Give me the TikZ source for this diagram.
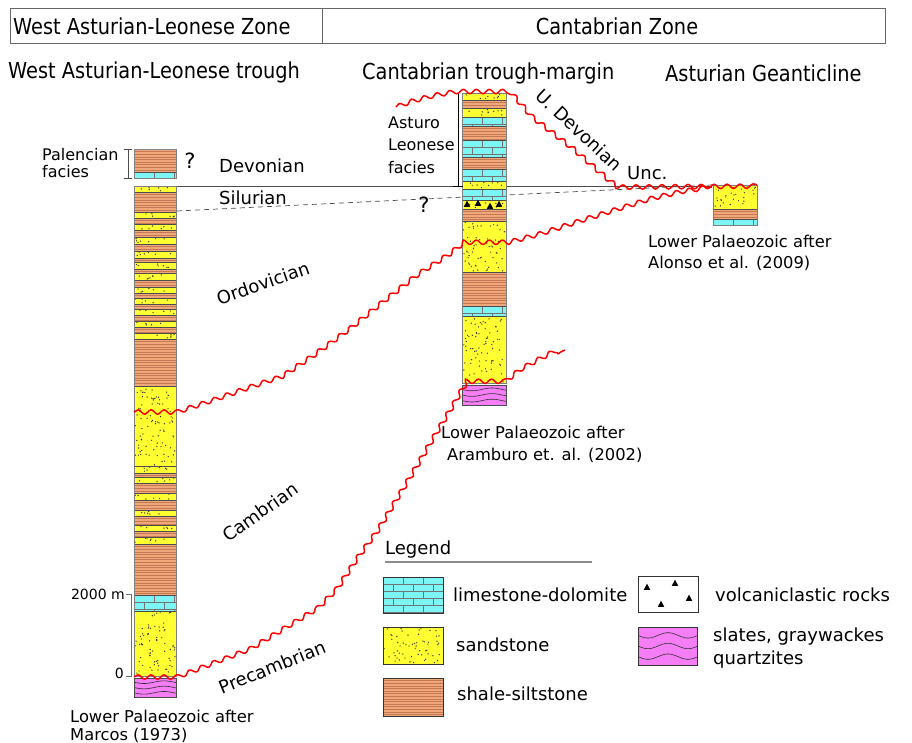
\documentclass[tikz,border=0pt]{standalone}
\usepackage{fontspec}
\setmainfont{DejaVu Sans}
\newfontfamily\condfont{DejaVu Sans}[FakeStretch=0.88]
\usetikzlibrary{decorations.pathmorphing}

\definecolor{sandcol}{RGB}{255,255,50}
\definecolor{shalecol}{RGB}{240,168,122}
\definecolor{shaleln}{RGB}{196,120,84}
\definecolor{limecol}{RGB}{125,245,245}
\definecolor{slatecol}{RGB}{245,125,245}

\tikzset{
  frame/.style={draw=black!60, line width=0.8pt},
  bedline/.style={draw=black!70, line width=0.5pt},
  coledge/.style={draw=black!50, line width=0.9pt},
  shaleline/.style={draw=shaleln, line width=0.35pt},
  limeline/.style={draw=black!55, line width=0.4pt},
  slateline/.style={draw=black!80, line width=0.6pt},
  sanddot/.style={fill=black!80},
  unc/.style={draw=red, line width=1.5pt, decorate,
    decoration={snake, segment length=13pt, amplitude=2.2pt}},
  horizon/.style={draw=black!70, line width=0.7pt},
  agetext/.style={font=\fontsize{18}{21}\selectfont, inner sep=0pt},
  notetext/.style={font=\fontsize{16.3}{19}\selectfont, inner sep=0pt, align=left},
  head/.style={font=\condfont\fontsize{22}{25}\selectfont, inner sep=0pt},
}

% beds: x1 y1 x2 y2 (y grows downward)
\newcommand{\sandbed}[4]{%
  \fill[sandcol] (#1,#2) rectangle (#3,#4);
  \pgfmathtruncatemacro\ndots{abs((#3-#1)*(#4-#2))/38}
  \foreach \k in {1,...,\ndots} {\fill[sanddot] ({#1+1+rnd*(#3-#1-2)},{#2+1+rnd*(#4-#2-2)}) circle (0.7pt);}
  \draw[bedline] (#1,#2) rectangle (#3,#4);
}
\newcommand{\shalebed}[4]{%
  \fill[shalecol] (#1,#2) rectangle (#3,#4);
  \begin{scope}
    \clip (#1,#2) rectangle (#3,#4);
    \foreach \k in {1,...,40} {\draw[shaleline] (#1,{#2+2.6*\k}) -- (#3,{#2+2.6*\k});}
  \end{scope}
  \draw[bedline] (#1,#2) rectangle (#3,#4);
}
\newcommand{\limebed}[4]{%
  \fill[limecol] (#1,#2) rectangle (#3,#4);
  \begin{scope}
    \clip (#1,#2) rectangle (#3,#4);
    \foreach \r in {0,...,7} {
      \draw[limeline] (#1,{#2+7*\r}) -- (#3,{#2+7*\r});
      \foreach \c in {0,...,3} {\draw[limeline] ({#1+20*\c+10*mod(\r,2)},{#2+7*\r}) -- ++(0,7);}
    }
  \end{scope}
  \draw[bedline] (#1,#2) rectangle (#3,#4);
}
\newcommand{\slatebed}[4]{%
  \fill[slatecol] (#1,#2) rectangle (#3,#4);
  \begin{scope}
    \clip (#1,#2) rectangle (#3,#4);
    \foreach \r in {0,1,2} {\draw[slateline] plot[domain=#1:#3, samples=40] (\x, {#2+(#4-#2)*(0.22+0.28*\r)+(#4-#2)*0.07*sin(9*(\x-#1))});}
  \end{scope}
  \draw[bedline] (#1,#2) rectangle (#3,#4);
}
\newcommand{\trimark}[2]{\fill ({#1-3.2},{#2+2.8}) -- ({#1+3.2},{#2+2.8}) -- (#1,{#2-3.4}) -- cycle;}

\begin{document}
\begin{tikzpicture}[x=1pt,y=-1pt]
\pgfmathsetseed{7}
\useasboundingbox (0,0) rectangle (912,743);

% zones
\draw[frame] (10,8) rectangle (885,43);
\draw[frame] (322,8) -- (322,43);
\node[head, anchor=west] (zone-w) at (13,26) {West Asturian-Leonese Zone};
\node[head] (zone-c) at (617,26) {Cantabrian Zone};
\node[head, anchor=west] (trough-w) at (8,72) {West Asturian-Leonese trough};
\node[head, anchor=west] (trough-c) at (362,73) {Cantabrian trough-margin};
\node[head, anchor=west] (geant) at (665,73) {Asturian Geanticline};

% Devonian / Silurian limits
\coordinate (dev-w) at (177,186);
\coordinate (dev-e) at (712,186);
\coordinate (sil-w) at (177,211);
\coordinate (sil-e) at (712,185);
\draw[horizon] (dev-w) -- (dev-e);
\draw[horizon, dashed, dash pattern=on 5pt off 4pt] (sil-w) -- (sil-e);

% West Asturian-Leonese column
\shalebed{134}{149}{176}{172}
\limebed{134}{172}{176}{178}
\sandbed{134}{186}{176}{192}
\shalebed{134}{192}{176}{212}
\sandbed{134}{212}{176}{218}
\shalebed{134}{218}{176}{224}
\sandbed{134}{224}{176}{230}
\shalebed{134}{230}{176}{237}
\sandbed{134}{237}{176}{244}
\shalebed{134}{244}{176}{251}
\sandbed{134}{251}{176}{258}
\shalebed{134}{258}{176}{262}
\sandbed{134}{262}{176}{269}
\shalebed{134}{269}{176}{273}
\sandbed{134}{273}{176}{280}
\shalebed{134}{280}{176}{287}
\sandbed{134}{287}{176}{293}
\shalebed{134}{293}{176}{298}
\sandbed{134}{298}{176}{304}
\shalebed{134}{304}{176}{309}
\sandbed{134}{309}{176}{315}
\shalebed{134}{315}{176}{321}
\sandbed{134}{321}{176}{327}
\shalebed{134}{327}{176}{333}
\sandbed{134}{333}{176}{339}
\shalebed{134}{339}{176}{386}
\sandbed{134}{386}{176}{466}
\sandbed{134}{466}{176}{473}
\shalebed{134}{473}{176}{477}
\sandbed{134}{477}{176}{483}
\shalebed{134}{483}{176}{493}
\sandbed{134}{493}{176}{500}
\shalebed{134}{500}{176}{510}
\sandbed{134}{510}{176}{516}
\shalebed{134}{516}{176}{525}
\sandbed{134}{525}{176}{531}
\shalebed{134}{531}{176}{537}
\sandbed{134}{537}{176}{544}
\shalebed{134}{544}{176}{595}
\limebed{134}{595}{176}{611}
\sandbed{134}{611}{176}{676}
\slatebed{134}{678}{176}{697}
\draw[coledge] (134,149) rectangle (176,178);
\draw[coledge] (134,186) rectangle (176,676);

% Cantabrian trough-margin column
\sandbed{462}{93}{506}{100}
\shalebed{462}{100}{506}{108}
\sandbed{462}{108}{506}{117}
\limebed{462}{117}{506}{126}
\shalebed{462}{126}{506}{140}
\limebed{462}{140}{506}{157}
\shalebed{462}{157}{506}{169}
\limebed{462}{169}{506}{181}
\sandbed{462}{181}{506}{189}
\limebed{462}{189}{506}{200}
\sandbed{462}{200}{506}{209}
\trimark{467}{204}
\trimark{478}{203}
\trimark{490}{206}
\trimark{499}{204}
\shalebed{462}{209}{506}{221}
\sandbed{462}{221}{506}{272}
\shalebed{462}{272}{506}{306}
\limebed{462}{306}{506}{316}
\sandbed{462}{316}{506}{383}
\slatebed{462}{385}{506}{405}
\draw[coledge] (462,93) rectangle (506,383);

% Asturian Geanticline column
\sandbed{713}{185}{757}{209}
\shalebed{713}{209}{757}{219}
\limebed{713}{219}{757}{225}
\draw[coledge] (713,185) rectangle (757,225);

% brackets and scale
\draw[black!70, line width=0.8pt] (124,149) -- (132,149) (128,149) -- (128,178) (124,178) -- (132,178);
\draw[black, line width=0.9pt] (458,93) -- (458,186) (453,186) -- (463,186);
\draw[black!55, line width=0.8pt] (126,594) -- (131,594) -- (131,676) -- (126,676);
\node[notetext, anchor=east, font=\fontsize{14}{16}\selectfont] (m2000) at (125,594) {2000 m};
\node[notetext, anchor=east, font=\fontsize{14}{16}\selectfont] (m0) at (124,673) {0};

% unconformities
\draw[unc] (396,107) -- (410,102) -- (425,98) -- (440,95) -- (452,93) -- (506,93) -- (515,103) -- (527,117)
  -- (567,148) -- (600,177) -- (610,185) -- (620,186) -- (757,185);
\draw[unc] (134,412) -- (177,412) -- (213,400) -- (247,388) -- (280,377) -- (313,355) -- (347,330) -- (380,303)
  -- (413,277) -- (447,255) -- (462,243) -- (506,243) -- (540,234) -- (580,221) -- (615,210) -- (650,199)
  -- (685,191) -- (712,187);
\draw[unc] (134,677) -- (177,677) -- (213,663) -- (247,650) -- (280,630) -- (313,610) -- (333,590) -- (353,560)
  -- (373,533) -- (393,500) -- (413,467) -- (433,433) -- (447,410) -- (462,384) -- (506,384) -- (520,373)
  -- (535,365) -- (550,357) -- (565,350);

% ages
\node[agetext, anchor=west] (devonian) at (219,166) {Devonian};
\node[agetext, anchor=west] (silurian) at (219,198) {Silurian};
\node[agetext, rotate=19] (ordovician) at (263,283) {Ordovician};
\node[agetext, rotate=35] (cambrian) at (260,512) {Cambrian};
\node[agetext, rotate=22] (precambrian) at (272,667) {Precambrian};
\node[agetext, rotate=-43] (udevonian) at (579,130) {U. Devonian};
\node[agetext, anchor=west] (unc) at (627,173) {Unc.};
\node[agetext, font=\fontsize{21}{24}\selectfont] (q-w) at (190,161) {?};
\node[agetext, font=\fontsize{21}{24}\selectfont] (q-c) at (424,205) {?};

% notes
\node[notetext, anchor=west, font=\fontsize{16}{17}\selectfont] (palencian) at (42,163) {Palencian\\facies};
\node[notetext, anchor=west, font=\fontsize{16}{22.5}\selectfont] (asturo) at (388,145) {Asturo\\Leonese\\facies};
\node[notetext, anchor=west] (marcos-1) at (70,716) {Lower Palaeozoic after};
\node[notetext, anchor=west] (marcos-2) at (70,735) {Marcos (1973)};
\node[notetext, anchor=west] (aramburo-1) at (441,432) {Lower Palaeozoic after};
\node[notetext, anchor=west] (aramburo-2) at (447,455) {Aramburo et. al. (2002)};
\node[notetext, anchor=west] (alonso-1) at (648,241) {Lower Palaeozoic after};
\node[notetext, anchor=west] (alonso-2) at (648,263) {Alonso et al. (2009)};

% legend
\node[agetext, anchor=west] (legend) at (385,550) {Legend};
\draw[black!45, line width=1.5pt] (385,562) -- (592,562);
\limebed{383}{577}{443}{613}
\node[agetext, anchor=west] (leg-lime) at (453,595) {limestone-dolomite};
\draw[black!80, line width=0.8pt] (638,576) rectangle (698,612);
\trimark{647}{587}
\trimark{675}{583}
\trimark{661}{604}
\trimark{689}{598}
\node[agetext, anchor=west] (leg-volc) at (715,595) {volcaniclastic rocks};
\sandbed{383}{627}{443}{664}
\node[agetext, anchor=west] (leg-sand) at (456,645) {sandstone};
\slatebed{638}{627}{697}{665}
\node[agetext, anchor=west, align=left, font=\fontsize{18}{23}\selectfont] (leg-slate) at (713,648) {slates, graywackes\\quartzites};
\shalebed{383}{678}{443}{716}
\node[agetext, anchor=west] (leg-shale) at (457,694) {shale-siltstone};
\draw[black!80, line width=0.8pt] (383,577) rectangle (443,613) (383,627) rectangle (443,664) (638,627) rectangle (697,665) (383,678) rectangle (443,716);
\end{tikzpicture}
\end{document}
